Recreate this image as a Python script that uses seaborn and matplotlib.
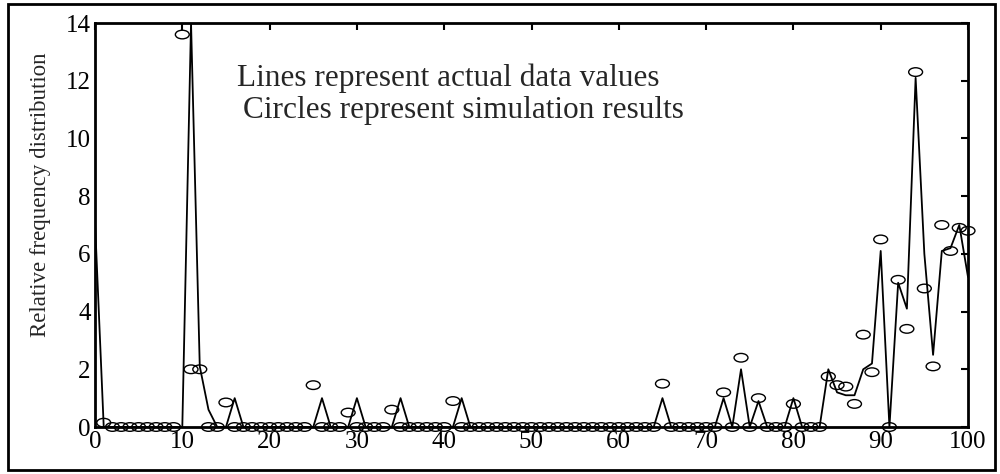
import numpy as np
import pandas as pd
import matplotlib
matplotlib.use("Agg")
import matplotlib.pyplot as plt
from matplotlib.path import Path
from matplotlib.markers import MarkerStyle
from matplotlib.patches import Rectangle
import matplotlib.transforms as mtransforms
import seaborn as sns

# ---------------- data ----------------
x_values = list(range(0, 101))

# actual data values (line), read per integer x
actual_nonzero = {
    0: 7.1, 11: 14.0, 12: 2.1, 13: 0.6, 16: 1.0, 26: 1.0, 30: 1.0, 35: 1.0,
    42: 1.0, 65: 1.0, 72: 1.0, 74: 2.0, 76: 0.9, 80: 1.0, 84: 2.0, 85: 1.2,
    86: 1.1, 87: 1.1, 88: 2.0, 89: 2.2, 90: 6.1, 91: 0.0, 92: 5.0, 93: 4.1,
    94: 12.1, 95: 6.0, 96: 2.5, 97: 6.1, 98: 6.2, 99: 7.0, 100: 5.2,
}
actual_values = [actual_nonzero.get(x, 0.0) for x in x_values]

# simulation results (circles)
sim_nonzero = {
    1: 0.15, 10: 13.6, 11: 2.0, 12: 2.0, 15: 0.85, 25: 1.45, 29: 0.5, 34: 0.6,
    41: 0.9, 65: 1.5, 72: 1.2, 74: 2.4, 76: 1.0, 80: 0.8, 84: 1.75, 85: 1.45,
    86: 1.4, 87: 0.8, 88: 3.2, 89: 1.9, 90: 6.5, 91: 0.0, 92: 5.1, 93: 3.4,
    94: 12.3, 95: 4.8, 96: 2.1, 97: 7.0, 98: 6.1, 99: 6.9, 100: 6.8,
}
sim_x = x_values[1:]
sim_values = [sim_nonzero.get(x, 0.0) for x in sim_x]

x_ticks = list(range(0, 101, 10))
y_ticks = list(range(0, 15, 2))
y_label = "Relative frequency distribution"
note_lines = ["Lines represent actual data values",
              "Circles represent simulation results"]

# ---------------- style ----------------
sns.set_style("white")
plt.rcParams["font.family"] = ["Liberation Serif", "DejaVu Serif"]

W, H = 1000, 474
fig = plt.figure(figsize=(W / 100, H / 100), dpi=100)
ax = fig.add_axes([95 / W, 47 / H, 873 / W, 404 / H])

df_line = pd.DataFrame({"x": x_values, "y": actual_values})
df_sim = pd.DataFrame({"x": sim_x, "y": sim_values})

sns.lineplot(data=df_line, x="x", y="y", ax=ax, color="black",
             linewidth=1.3, estimator=None, sort=True, zorder=2)

ell = Path.unit_circle().transformed(mtransforms.Affine2D().scale(1.0, 0.62))
marker = MarkerStyle(ell)
sns.scatterplot(data=df_sim, x="x", y="y", ax=ax, marker=marker, s=100,
                facecolor="none", edgecolor="black", linewidth=1.0,
                clip_on=False, zorder=3)

ax.set_xlim(0, 100)
ax.set_ylim(0, 14)
ax.set_xticks(x_ticks)
ax.set_yticks(y_ticks)
ax.tick_params(direction="in", top=True, right=True, length=5, width=1.5,
               labelsize=18, pad=3, colors="black")
for sp in ax.spines.values():
    sp.set_visible(True)
    sp.set_linewidth(2)
    sp.set_color("black")

ax.set_xlabel("")
ax.set_ylabel(y_label, fontsize=16.5)
ax.yaxis.set_label_coords(-0.05, 0.575)

ax.text(0.163, 0.845, note_lines[0], transform=ax.transAxes, fontsize=22.5,
        ha="left", va="baseline")
ax.text(0.17, 0.766, note_lines[1], transform=ax.transAxes, fontsize=22.5,
        ha="left", va="baseline")

# outer frame
fig.patches.append(Rectangle((8 / W, 4 / H), 987 / W, 466 / H, fill=False,
                             edgecolor="black", linewidth=2,
                             transform=fig.transFigure, figure=fig))

fig.savefig("out.png", dpi=100)
